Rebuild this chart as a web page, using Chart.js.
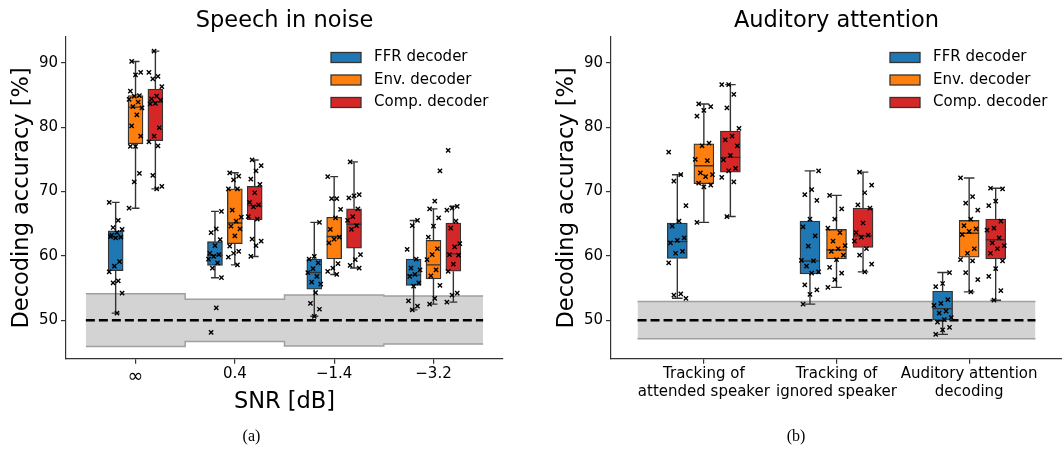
<!DOCTYPE html>
<html>
<head>
<meta charset="utf-8">
<script src="https://cdn.jsdelivr.net/npm/chart.js@4"></script>
<style>
    html, body { margin: 0; padding: 0; background: #fff; overflow: hidden; width: 1062px; height: 452px; }
    #panelA { position: absolute; left: 0; top: 0; }
    #panelB { position: absolute; left: 530px; top: 0; }
</style>
</head>
<body>
<canvas id="panelA" width="530" height="452"></canvas>
<canvas id="panelB" width="590" height="452"></canvas>
<script>
Chart.defaults.font.family = '"DejaVu Sans", sans-serif';
Chart.defaults.color = '#000';

const decoders = ['FFR decoder', 'Env. decoder', 'Comp. decoder'];
const decoderColors = ['#1f77b4', '#ff7f0e', '#d62728'];
const yTicks = [50, 60, 70, 80, 90];
const chanceLevel = 50;

// (a) Speech in noise
const snrLabels = ['∞', '0.4', '−1.4', '−3.2'];
// [whisker bas, Q1, médiane, Q3, whisker haut]
const sinFfrBoxes = [[51.1, 57.7, 62.9, 63.9, 68.3], [56.6, 58.5, 60.1, 62.2, 66.9], [50.6, 54.8, 57.4, 59.5, 65.2], [51.6, 55.4, 57.0, 59.5, 65.5]];
const sinEnvBoxes = [[67.4, 77.4, 83.1, 84.9, 90.2], [58.6, 61.9, 65.1, 70.4, 72.9], [57.1, 59.5, 63.0, 66.0, 72.3], [52.5, 56.4, 58.6, 62.4, 67.3]];
const sinCompBoxes = [[70.4, 77.9, 83.9, 85.9, 91.8], [59.9, 65.6, 67.8, 70.8, 74.9], [58.1, 61.2, 64.9, 67.3, 74.6], [52.8, 57.6, 60.3, 65.1, 67.7]];
const sinFfrPoints = [
    [68.3, 65.5, 64.4, 64.1, 63.6, 63.2, 62.9, 62.8, 63.0, 59.1, 58.4, 57.5, 56.1, 55.8, 54.2, 51.1],
    [66.9, 64.2, 63.6, 62.5, 61.6, 60.4, 60.2, 59.9, 59.5, 58.9, 58.1, 56.6, 51.9, 48.1],
    [65.2, 59.9, 59.5, 58.9, 58.0, 57.4, 56.8, 55.9, 55.6, 54.3, 52.6, 51.7, 50.6],
    [65.5, 64.7, 61.0, 59.5, 58.1, 57.8, 57.1, 56.8, 55.8, 55.3, 53.0, 52.2, 51.6]
];
const sinEnvPoints = [
    [90.2, 88.5, 88.1, 85.6, 84.9, 84.8, 84.3, 83.9, 83.2, 83.0, 81.9, 80.2, 78.6, 77.0, 77.0, 72.8, 71.5, 67.4],
    [72.9, 72.4, 71.8, 70.4, 70.4, 67.1, 66.0, 65.4, 64.6, 64.2, 63.1, 61.5, 60.7, 60.4, 59.8, 58.6],
    [72.3, 68.9, 68.9, 67.2, 65.9, 64.1, 62.9, 62.6, 62.0, 58.8, 58.1, 57.6, 57.1],
    [73.2, 68.5, 67.3, 65.9, 64.6, 62.9, 61.1, 60.2, 59.4, 57.8, 56.9, 55.4, 53.4, 52.5]
];
const sinCompPoints = [
    [91.8, 88.5, 87.9, 87.5, 86.3, 84.8, 84.4, 84.2, 83.7, 83.6, 79.9, 78.6, 77.7, 77.1, 72.5, 70.8, 70.4],
    [74.9, 74.0, 73.2, 71.9, 71.1, 69.8, 68.3, 67.9, 67.6, 66.1, 65.7, 62.6, 62.3, 61.6, 59.9],
    [74.6, 69.5, 69.3, 69.0, 67.3, 66.1, 65.5, 64.7, 64.1, 60.2, 59.4, 58.5, 58.1],
    [76.4, 67.7, 67.4, 67.1, 65.4, 64.3, 61.9, 61.4, 60.2, 60.1, 58.7, 57.6, 54.2, 53.9, 52.8]
];
const sinChanceHigh = [54.1, 53.25, 53.9, 53.75];
const sinChanceLow = [45.9, 46.7, 46.0, 46.3];

// (b) Auditory attention
const attLabels = [['Tracking of', 'attended speaker'], ['Tracking of', 'ignored speaker'], ['Auditory attention', 'decoding']];
const attFfrBoxes = [[53.4, 59.6, 62.2, 65.1, 72.6], [52.5, 57.2, 59.2, 65.4, 73.2], [47.8, 50.0, 51.8, 54.5, 57.4]];
const attEnvBoxes = [[65.2, 71.2, 74.0, 77.4, 83.6], [55.1, 59.5, 60.9, 64.1, 69.4], [54.4, 59.8, 63.5, 65.5, 72.1]];
const attCompBoxes = [[66.1, 73.0, 75.3, 79.4, 86.6], [57.5, 61.3, 63.1, 67.4, 73.0], [53.1, 59.5, 62.5, 65.7, 70.5]];
const attFfrPoints = [
    [76.1, 72.6, 71.6, 67.8, 65.4, 64.6, 62.8, 62.4, 62.0, 60.7, 60.4, 58.9, 54.1, 53.9, 53.4],
    [73.2, 70.3, 69.5, 68.6, 65.7, 64.5, 63.1, 61.5, 59.3, 59.2, 58.4, 57.5, 57.3, 55.5, 54.7, 54.0, 52.5],
    [57.4, 55.7, 55.2, 53.2, 52.6, 52.3, 51.4, 51.1, 50.4, 50.1, 49.7, 48.9, 48.5, 47.8]
];
const attEnvPoints = [
    [83.6, 83.2, 82.6, 81.7, 77.5, 77.1, 75.0, 74.8, 72.9, 72.6, 72.3, 71.3, 71.0, 70.7, 65.2],
    [69.4, 67.3, 65.7, 64.3, 63.6, 62.3, 61.6, 61.1, 60.7, 60.1, 59.4, 58.2, 57.3, 56.3, 55.1],
    [72.1, 69.2, 68.2, 67.1, 65.7, 64.7, 64.2, 63.8, 63.3, 61.1, 60.4, 59.4, 59.2, 57.4, 56.3, 54.4]
];
const attCompPoints = [
    [86.6, 86.6, 85.1, 83.0, 79.8, 78.6, 78.0, 77.1, 75.6, 74.9, 73.6, 73.2, 72.2, 71.5, 66.1],
    [73.0, 71.0, 69.8, 67.9, 67.4, 65.1, 63.6, 63.2, 62.9, 62.3, 61.1, 60.1, 58.7, 57.5],
    [70.5, 70.4, 68.5, 67.8, 65.4, 64.3, 64.0, 62.8, 62.0, 61.6, 61.1, 60.4, 59.2, 58.0, 56.8, 54.6, 53.1]
];
const attChanceHigh = [52.9, 52.9, 52.9];
const attChanceLow = [47.1, 47.1, 47.1];

// décalage des boîtes par décodeur
const DODGE = [-0.2, 0, 0.2];
const BOX_W = 0.15;
const CAP_W = 0.08;

function jitter(k) {
    // dispersion horizontale des croix (stripplot)
    return (((k * 7) % 11) / 10 - 0.5) * 0.13;
}

function buildDatasets(boxSets, pointSets, chanceHigh, chanceLow, barPx) {
    const n = chanceHigh.length;
    const edges = [];
    for (let i = 0; i <= n; i++) edges.push(i - 0.5);
    const ds = [];

    // zone de chance
    ds.push({
        type: 'line', data: edges.map((x, i) => ({x: x, y: chanceHigh[Math.min(i, n - 1)]})),
        stepped: 'before', fill: '+1', backgroundColor: '#d3d3d3', borderColor: '#a0a0a0',
        borderWidth: 1.5, pointRadius: 0, order: 20
    });
    ds.push({
        type: 'line', data: edges.map((x, i) => ({x: x, y: chanceLow[Math.min(i, n - 1)]})),
        stepped: 'before', fill: false, borderColor: '#a0a0a0',
        borderWidth: 1.5, pointRadius: 0, order: 19
    });
    ds.push({
        type: 'line', data: [{x: -0.5, y: chanceLevel}, {x: n - 0.5, y: chanceLevel}],
        borderColor: '#000', borderWidth: 2.5, borderDash: [9, 4], pointRadius: 0, order: 18
    });

    boxSets.forEach((stats, d) => {
        ds.push({
            type: 'bar', label: decoders[d],
            data: stats.map((s, i) => ({x: i + DODGE[d], y: [s[1], s[3]]})),
            backgroundColor: decoderColors[d], borderColor: '#333', borderWidth: 1.3,
            borderSkipped: false, grouped: false, barThickness: barPx, order: 10
        });
        const seg = [];
        stats.forEach((s, i) => {
            const x = i + DODGE[d];
            seg.push({x: x, y: s[0]}, {x: x, y: s[1]}, {x: x, y: null});
            seg.push({x: x, y: s[3]}, {x: x, y: s[4]}, {x: x, y: null});
            seg.push({x: x - CAP_W / 2, y: s[0]}, {x: x + CAP_W / 2, y: s[0]}, {x: x, y: null});
            seg.push({x: x - CAP_W / 2, y: s[4]}, {x: x + CAP_W / 2, y: s[4]}, {x: x, y: null});
            seg.push({x: x - BOX_W / 2, y: s[2]}, {x: x + BOX_W / 2, y: s[2]}, {x: x, y: null});
        });
        ds.push({
            type: 'line', data: seg, borderColor: '#333', borderWidth: 1.4,
            pointRadius: 0, spanGaps: false, order: 5
        });
    });

    const pts = [];
    pointSets.forEach((sets, d) => {
        sets.forEach((vals, i) => {
            vals.forEach((v, k) => {
                pts.push({x: i + DODGE[d] + jitter(k + i * 3 + d * 5), y: v});
            });
        });
    });
    ds.push({
        type: 'scatter', data: pts, pointStyle: 'crossRot', pointRadius: 3,
        borderColor: '#000', backgroundColor: '#000', borderWidth: 1.4, order: 1
    });
    return ds;
}

// légende dessinée dans la zone du graphique
const boxLegend = {
    id: 'boxLegend',
    afterDraw(chart) {
        const {ctx, chartArea} = chart;
        ctx.save();
        ctx.font = '15px "DejaVu Sans"';
        ctx.textBaseline = 'middle';
        decoders.forEach((name, i) => {
            const x = chartArea.right - 172;
            const y = chartArea.top + 20.5 + i * 22.5;
            ctx.fillStyle = decoderColors[i];
            ctx.fillRect(x, y - 5, 30, 10);
            ctx.strokeStyle = '#333';
            ctx.lineWidth = 1.3;
            ctx.strokeRect(x, y - 5, 30, 10);
            ctx.fillStyle = '#000';
            ctx.fillText(name, x + 43, y);
        });
        ctx.restore();
    }
};

function buildOptions(title, caption, labels, xTitle, yWidth, yTitlePad, rightPad) {
    const axisGrid = {drawOnChartArea: false, drawTicks: true, offset: false, tickLength: 5, color: '#333', lineWidth: 1.2};
    return {
        responsive: false,
        animation: false,
        events: [],
        layout: {padding: {left: 0, right: rightPad, top: 0, bottom: 0}},
        plugins: {
            legend: {display: false},
            tooltip: {enabled: false},
            title: {
                display: true, text: title, fullSize: false, color: '#000',
                font: {size: 22.5, weight: 'normal'}, padding: {top: 7.5, bottom: 2.5}
            },
            subtitle: {
                display: true, position: 'bottom', text: caption, color: '#000',
                font: {family: '"Liberation Serif", "Times New Roman", serif', size: 16},
                padding: {top: 0, bottom: 6}
            }
        },
        scales: {
            x: {
                type: 'linear', min: -0.7, max: labels.length - 0.3, offset: false,
                afterBuildTicks: s => { s.ticks = labels.map((_, i) => ({value: i})); },
                afterFit: s => { s.height = 68; },
                ticks: {
                    callback: (v, i) => labels[i], color: '#000', padding: 2,
                    // le symbole ∞ est plus large dans l'original
                    font: c => ({size: labels[c.index] === '∞' ? 19 : 15, lineHeight: 1.15}),
                    maxRotation: 0, autoSkip: false
                },
                grid: axisGrid,
                border: {display: true, color: '#333', width: 1.2},
                title: {
                    display: !!xTitle, text: xTitle, color: '#000',
                    font: {size: 22.5}, padding: {top: 0, bottom: 11.5}
                }
            },
            y: {
                type: 'linear', min: 44, max: 94,
                afterBuildTicks: s => { s.ticks = yTicks.map(v => ({value: v})); },
                afterFit: s => { s.width = yWidth; },
                ticks: {color: '#000', padding: 3, font: {size: 15}},
                grid: axisGrid,
                border: {display: true, color: '#333', width: 1.2},
                title: {
                    display: true, text: 'Decoding accuracy [%]', color: '#000',
                    font: {size: 22.5}, padding: {top: yTitlePad, bottom: 0}
                }
            }
        }
    };
}

new Chart(document.getElementById('panelA'), {
    type: 'scatter',
    data: {datasets: buildDatasets([sinFfrBoxes, sinEnvBoxes, sinCompBoxes], [sinFfrPoints, sinEnvPoints, sinCompPoints], sinChanceHigh, sinChanceLow, 15)},
    options: buildOptions('Speech in noise', '(a)', snrLabels, 'SNR [dB]', 66, 8.5, 27),
    plugins: [boxLegend]
});

new Chart(document.getElementById('panelB'), {
    type: 'scatter',
    data: {datasets: buildDatasets([attFfrBoxes, attEnvBoxes, attCompBoxes], [attFfrPoints, attEnvPoints, attCompPoints], attChanceHigh, attChanceLow, 20)},
    options: buildOptions('Auditory attention', '(b)', attLabels, '', 81, 23.2, 58),
    plugins: [boxLegend]
});
</script>
</body>
</html>
